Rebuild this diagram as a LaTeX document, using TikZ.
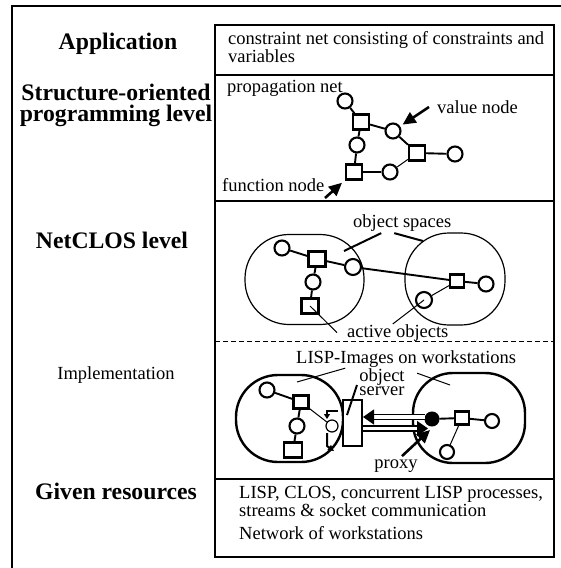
\documentclass[tikz,border=0pt]{standalone}
\usepackage{fontspec}
\setmainfont{Liberation Serif}
\usetikzlibrary{arrows.meta}
\begin{document}
\begin{tikzpicture}[x=1pt,y=-1pt,
  lbl/.style={font=\fontsize{23.7}{20.5}\selectfont\bfseries, align=center, inner sep=0pt},
  txt/.style={font=\fontsize{18.5}{16}\selectfont, inner sep=0pt},
  vnode/.style={circle, draw, line width=2.1pt, minimum size=15pt, inner sep=0pt, fill=white},
  fnode/.style={rectangle, draw, line width=2.1pt, minimum width=16pt, minimum height=15pt, inner sep=0pt, fill=white},
  edge/.style={line width=1.9pt},
  thinedge/.style={line width=1pt},
  pointer/.style={line width=2.6pt, -{Triangle[length=13pt,width=12pt]}},
  spacebox/.style={draw, rounded corners=44pt, inner sep=0pt},
  dblarrow/.style={double, double distance=3.4pt, line width=1.4pt, -{Triangle[length=11pt,width=15pt]}},
]
\useasboundingbox (0,0) rectangle (560,568);
\fill[white] (0,0) rectangle (560,568);
% outer frame
\draw[line width=2.4pt] (12,590) -- (12,6) -- (590,6);
% column boxes
\draw[line width=1.2pt] (215,25) rectangle (554,75);
\draw[line width=1.2pt] (215,479) rectangle (554,557);
\draw[line width=1.4pt] (215,201) -- (554,201);
\draw[line width=1pt, dash pattern=on 5pt off 3pt] (215,341) -- (554,341);
\draw[line width=2.4pt] (215,75) rectangle (554,479);

% left labels
\node[lbl, anchor=base] (lapp) at (118,49) {Application};
\node[lbl, anchor=base] (lstr) at (116,121) {Structure-oriented\\programming level};
\node[lbl, anchor=base] (lnet) at (112,248) {NetCLOS level};
\node[txt, anchor=base] (limp) at (116,379) {Implementation};
\node[lbl, anchor=base] (lres) at (116,499) {Given resources};

% application text
\node[txt, anchor=base west, align=left] (tapp) at (228,62) {constraint net consisting of constraints and\\variables};

% propagation net
\node[txt, anchor=base west] (tprop) at (227,92) {propagation net};
\node[txt, anchor=base west] (tval) at (437,113) {value node};
\node[txt, anchor=base west] (tfun) at (222,191) {function node};
\node[vnode] (c1) at (345,101) {};
\node[fnode] (s1) at (361,122) {};
\node[vnode] (c2) at (393,131) {};
\node[vnode] (c3) at (357,145) {};
\node[fnode] (s2) at (417,153) {};
\node[vnode] (c4) at (455,154) {};
\node[fnode] (s3) at (354,172) {};
\node[vnode] (c5) at (390,172) {};
\draw[edge] (c1) -- (s1);
\draw[edge] (s1) -- (c2);
\draw[edge] (c2) -- (s2);
\draw[edge] (s2) -- (c4);
\draw[edge] (s1) -- (c3);
\draw[edge] (c3) -- (s3);
\draw[edge] (s3) -- (c5);
\draw[thinedge] (c5) -- (s2);
\coordinate (vtail) at (429,107);
\coordinate (ftail) at (325,198);
\draw[pointer, shorten >=3pt] (vtail) -- (c2);
\draw[pointer, shorten >=4pt] (ftail) -- (s3);

% NetCLOS level
\node[spacebox, line width=1.2pt, minimum width=119pt, minimum height=90pt] (osp1) at (304.5,279.5) {};
\node[spacebox, line width=1.2pt, minimum width=100pt, minimum height=92pt] (osp2) at (455,279) {};
\node[txt, anchor=base west] (tos) at (353,227) {object spaces};
\node[txt, anchor=base west] (tao) at (347,337) {active objects};
\node[vnode] (a1) at (282,248) {};
\node[fnode, minimum width=17pt] (b1) at (317,259) {};
\node[vnode, minimum size=16pt] (a2) at (353,267) {};
\node[vnode] (a3) at (313,282) {};
\node[fnode, minimum width=17pt] (b2) at (310,306) {};
\node[fnode, minimum width=14pt, minimum height=13pt] (b3) at (457,281) {};
\node[vnode] (a4) at (486,284) {};
\node[vnode, minimum size=16pt] (a5) at (424,300) {};
\draw[edge] (a1) -- (b1);
\draw[edge] (b1) -- (a2);
\draw[edge] (a2) -- (b3);
\draw[edge] (b3) -- (a4);
\draw[edge] (b1) -- (a3);
\draw[edge] (a3) -- (b2);
\draw[thinedge] (b3) -- (a5);
\coordinate (osA) at (344,251);
\coordinate (osB) at (423,241);
\draw[line width=2pt] ([xshift=-21pt,yshift=-2pt]tos.south) -- (osA);
\draw[line width=2pt] ([xshift=-8pt,yshift=-2pt]tos.south) -- (osB);
\draw[thinedge] ([xshift=-10pt]tao.west) -- (b2.center);
\draw[thinedge] ([xshift=-5pt]tao.north) -- (a5.center);

% Implementation
\node[txt, anchor=base west] (tli) at (296,363) {LISP-Images on workstations};
\node[spacebox, line width=2.4pt, rounded corners=42pt, minimum width=107pt, minimum height=87pt] (img1) at (289.5,418.5) {};
\node[spacebox, line width=2.4pt, rounded corners=40pt, minimum width=112pt, minimum height=90pt] (img2) at (469,418) {};
\coordinate (liA) at (297,382);
\coordinate (liB) at (450,385);
\draw[thinedge] ([xshift=-61pt,yshift=-1pt]tli.south) -- (liA);
\draw[thinedge] ([xshift=11pt,yshift=-6pt]tli.south) -- (liB);
% left image contents
\node[vnode] (lc1) at (267,390) {};
\node[fnode, minimum width=15pt, minimum height=13pt] (ls1) at (301,402) {};
\node[vnode] (lc2) at (297,426) {};
\node[fnode, minimum width=18pt] (ls2) at (293,450) {};
\node[circle, draw, line width=1.2pt, minimum size=12pt, inner sep=0pt, fill=white] (lsm) at (332,426) {};
\draw[edge] (lc1) -- (ls1);
\draw[edge] (ls1) -- (lc2);
\draw[edge] (lc2) -- (ls2);
\draw[thinedge] (ls1) -- (lsm);
% object server
\node[draw, line width=2pt, fill=white, minimum width=19pt, minimum height=46pt, inner sep=0pt] (srv) at (352.5,423) {};
\node[txt, align=center, anchor=base, font=\fontsize{18.5}{13.5}\selectfont] (tsrv) at (382,395) {object\\server};
\coordinate (srvA) at (357,385);
\coordinate (srvB) at (347,415);
\draw[line width=2pt] (srvA) -- (srvB);
\draw[line width=2pt, -{Triangle[length=5pt,width=6pt]}] (338,411) -- (327,411) -- (327,419);
\draw[line width=2pt, -{Triangle[length=6pt,width=6pt]}] (327,433) -- (327,446) -- (334,451);
% right image contents
\node[circle, fill=black, draw, line width=1pt, minimum size=14pt, inner sep=0pt] (px) at (432,419) {};
\node[fnode, minimum width=14pt, minimum height=13pt] (rs) at (462,418) {};
\node[vnode, minimum size=14pt] (rc) at (492,421) {};
\node[vnode, minimum size=14pt] (rb) at (447,452) {};
\draw[edge] (px) -- (rs);
\draw[edge] (rs) -- (rc);
\draw[thinedge] (rs) -- (rb);
% transfer arrows
\coordinate (uA) at (425,417);
\coordinate (lB) at (428,428.5);
\draw[dblarrow] (uA) -- (srv.east |- uA);
\draw[dblarrow] (srv.east |- lB) -- (lB);
% proxy
\node[txt, anchor=base] (tpx) at (396,468) {proxy};
\coordinate (ptip) at (430,430);
\draw[pointer] ([xshift=6pt,yshift=3pt]tpx.north) -- (ptip);

% given resources
\node[txt, anchor=base west, align=left] (tres) at (239,516) {LISP, CLOS, concurrent LISP processes,\\streams \& socket communication};
\node[txt, anchor=base west] (tnw) at (239,539) {Network of workstations};
\end{tikzpicture}
\end{document}
